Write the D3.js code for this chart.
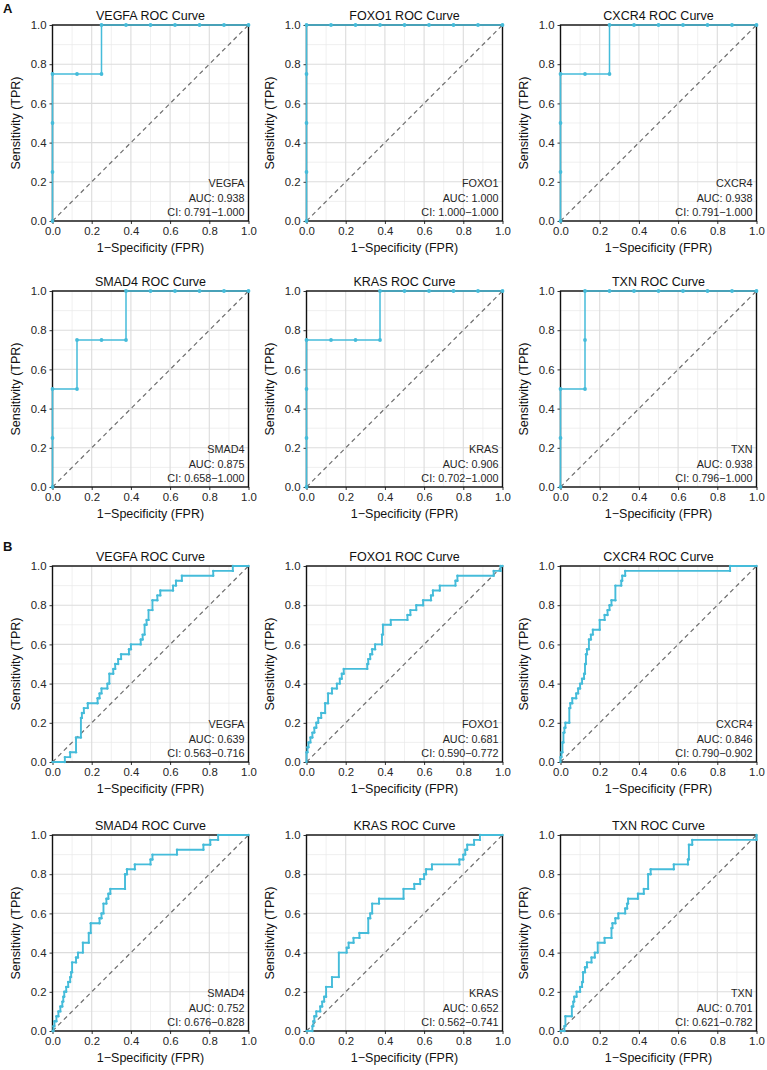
<!DOCTYPE html>
<html><head><meta charset="utf-8">
<script src="https://cdn.jsdelivr.net/npm/d3@7"></script>
<style>body{margin:0;background:#fff}svg{display:block;font-family:"Liberation Sans",Arial,sans-serif}</style>
</head><body><svg id="c" width="767" height="1070"></svg>
<script>
// ---------- data ----------
const genes = ["VEGFA","FOXO1","CXCR4","SMAD4","KRAS","TXN"];
const aucA = ["0.938","1.000","0.938","0.875","0.906","0.938"];
const ciA  = ["0.791\u22121.000","1.000\u22121.000","0.791\u22121.000","0.658\u22121.000","0.702\u22121.000","0.796\u22121.000"];
const aucB = ["0.639","0.681","0.846","0.752","0.652","0.701"];
const ciB  = ["0.563\u22120.716","0.590\u22120.772","0.790\u22120.902","0.676\u22120.828","0.562\u22120.741","0.621\u22120.782"];
const tickVals = [0,0.2,0.4,0.6,0.8,1.0];
const minorVals = [0.1,0.3,0.5,0.7,0.9];

// panel A ROC points [FPR, TPR]
const rocA_VEGFA = [[0,0],[0,0.25],[0,0.5],[0,0.75],[0.125,0.75],[0.25,0.75],[0.25,1],[0.375,1],[0.5,1],[0.625,1],[0.75,1],[0.875,1],[1,1]];
const rocA_FOXO1 = [[0,0],[0,0.25],[0,0.5],[0,0.75],[0,1],[0.125,1],[0.25,1],[0.375,1],[0.5,1],[0.625,1],[0.75,1],[0.875,1],[1,1]];
const rocA_CXCR4 = [[0,0],[0,0.25],[0,0.5],[0,0.75],[0.125,0.75],[0.25,0.75],[0.25,1],[0.375,1],[0.5,1],[0.625,1],[0.75,1],[0.875,1],[1,1]];
const rocA_SMAD4 = [[0,0],[0,0.25],[0,0.5],[0.125,0.5],[0.125,0.75],[0.25,0.75],[0.375,0.75],[0.375,1],[0.5,1],[0.625,1],[0.75,1],[0.875,1],[1,1]];
const rocA_KRAS  = [[0,0],[0,0.25],[0,0.5],[0,0.75],[0.125,0.75],[0.25,0.75],[0.375,0.75],[0.375,1],[0.5,1],[0.625,1],[0.75,1],[0.875,1],[1,1]];
const rocA_TXN   = [[0,0],[0,0.25],[0,0.5],[0.125,0.5],[0.125,0.75],[0.125,1],[0.25,1],[0.375,1],[0.5,1],[0.625,1],[0.75,1],[0.875,1],[1,1]];

// panel B ROC points [FPR, TPR]
const rocB_VEGFA = [[0,0],[0.063,0],[0.063,0.025],[0.09,0.025],[0.09,0.05],[0.12,0.05],[0.12,0.125],[0.145,0.125],[0.145,0.225],[0.15,0.225],[0.15,0.25],[0.16,0.25],[0.16,0.275],[0.18,0.275],[0.18,0.3],[0.23,0.3],[0.23,0.325],[0.24,0.325],[0.24,0.35],[0.25,0.35],[0.25,0.375],[0.28,0.375],[0.28,0.4],[0.29,0.4],[0.29,0.45],[0.31,0.45],[0.31,0.475],[0.32,0.475],[0.32,0.5],[0.335,0.5],[0.335,0.525],[0.35,0.525],[0.35,0.55],[0.39,0.55],[0.39,0.575],[0.4,0.575],[0.4,0.6],[0.45,0.6],[0.45,0.625],[0.46,0.625],[0.46,0.65],[0.47,0.65],[0.47,0.7],[0.48,0.7],[0.48,0.725],[0.49,0.725],[0.49,0.775],[0.51,0.775],[0.51,0.825],[0.535,0.825],[0.535,0.85],[0.55,0.85],[0.55,0.875],[0.615,0.875],[0.615,0.9],[0.63,0.9],[0.63,0.925],[0.66,0.925],[0.66,0.95],[0.82,0.95],[0.82,0.975],[0.92,0.975],[0.92,1],[1,1]];
const rocB_FOXO1 = [[0,0],[0,0.05],[0.005,0.05],[0.005,0.075],[0.01,0.075],[0.01,0.1],[0.02,0.1],[0.02,0.125],[0.03,0.125],[0.03,0.15],[0.04,0.15],[0.04,0.175],[0.05,0.175],[0.05,0.2],[0.06,0.2],[0.06,0.225],[0.075,0.225],[0.075,0.25],[0.095,0.25],[0.095,0.3],[0.11,0.3],[0.11,0.35],[0.13,0.35],[0.13,0.375],[0.155,0.375],[0.155,0.4],[0.17,0.4],[0.17,0.425],[0.18,0.425],[0.18,0.45],[0.19,0.45],[0.19,0.475],[0.31,0.475],[0.31,0.5],[0.315,0.5],[0.315,0.525],[0.325,0.525],[0.325,0.55],[0.335,0.55],[0.335,0.575],[0.35,0.575],[0.35,0.6],[0.385,0.6],[0.385,0.65],[0.39,0.65],[0.39,0.7],[0.43,0.7],[0.43,0.725],[0.515,0.725],[0.515,0.75],[0.53,0.75],[0.53,0.775],[0.56,0.775],[0.56,0.8],[0.595,0.8],[0.595,0.825],[0.635,0.825],[0.635,0.85],[0.645,0.85],[0.645,0.875],[0.68,0.875],[0.68,0.9],[0.76,0.9],[0.76,0.925],[0.77,0.925],[0.77,0.95],[0.955,0.95],[0.955,0.975],[0.99,0.975],[0.99,1],[1,1]];
const rocB_CXCR4 = [[0,0],[0,0.025],[0.005,0.025],[0.005,0.05],[0.01,0.05],[0.01,0.1],[0.015,0.1],[0.015,0.15],[0.02,0.15],[0.02,0.175],[0.025,0.175],[0.025,0.2],[0.045,0.2],[0.045,0.275],[0.05,0.275],[0.05,0.3],[0.06,0.3],[0.06,0.325],[0.08,0.325],[0.08,0.35],[0.09,0.35],[0.09,0.375],[0.1,0.375],[0.1,0.4],[0.11,0.4],[0.11,0.425],[0.12,0.425],[0.12,0.45],[0.125,0.45],[0.125,0.5],[0.13,0.5],[0.13,0.55],[0.135,0.55],[0.135,0.575],[0.145,0.575],[0.145,0.625],[0.155,0.625],[0.155,0.65],[0.165,0.65],[0.165,0.675],[0.2,0.675],[0.2,0.725],[0.225,0.725],[0.225,0.75],[0.24,0.75],[0.24,0.775],[0.25,0.775],[0.25,0.8],[0.26,0.8],[0.26,0.825],[0.28,0.825],[0.28,0.9],[0.31,0.9],[0.31,0.925],[0.315,0.925],[0.315,0.95],[0.33,0.95],[0.33,0.975],[0.865,0.975],[0.865,1],[1,1]];
const rocB_SMAD4 = [[0,0],[0.005,0],[0.005,0.025],[0.01,0.025],[0.01,0.05],[0.02,0.05],[0.02,0.075],[0.03,0.075],[0.03,0.1],[0.04,0.1],[0.04,0.125],[0.05,0.125],[0.05,0.15],[0.055,0.15],[0.055,0.175],[0.06,0.175],[0.06,0.2],[0.07,0.2],[0.07,0.225],[0.08,0.225],[0.08,0.25],[0.09,0.25],[0.09,0.275],[0.095,0.275],[0.095,0.3],[0.1,0.3],[0.1,0.35],[0.12,0.35],[0.12,0.375],[0.13,0.375],[0.13,0.4],[0.155,0.4],[0.155,0.45],[0.185,0.45],[0.185,0.5],[0.195,0.5],[0.195,0.55],[0.24,0.55],[0.24,0.575],[0.25,0.575],[0.25,0.6],[0.26,0.6],[0.26,0.65],[0.275,0.65],[0.275,0.675],[0.285,0.675],[0.285,0.7],[0.295,0.7],[0.295,0.725],[0.37,0.725],[0.37,0.8],[0.38,0.8],[0.38,0.825],[0.42,0.825],[0.42,0.85],[0.5,0.85],[0.5,0.875],[0.51,0.875],[0.51,0.9],[0.635,0.9],[0.635,0.925],[0.77,0.925],[0.77,0.95],[0.805,0.95],[0.805,0.975],[0.845,0.975],[0.845,1],[1,1]];
const rocB_KRAS  = [[0,0],[0.03,0],[0.03,0.025],[0.035,0.025],[0.035,0.05],[0.04,0.05],[0.04,0.075],[0.05,0.075],[0.05,0.1],[0.07,0.1],[0.07,0.125],[0.08,0.125],[0.08,0.15],[0.09,0.15],[0.09,0.175],[0.1,0.175],[0.1,0.225],[0.13,0.225],[0.13,0.275],[0.165,0.275],[0.165,0.4],[0.205,0.4],[0.205,0.425],[0.215,0.425],[0.215,0.45],[0.24,0.45],[0.24,0.475],[0.27,0.475],[0.27,0.5],[0.315,0.5],[0.315,0.575],[0.325,0.575],[0.325,0.6],[0.335,0.6],[0.335,0.65],[0.37,0.65],[0.37,0.675],[0.495,0.675],[0.495,0.725],[0.55,0.725],[0.55,0.75],[0.58,0.75],[0.58,0.775],[0.6,0.775],[0.6,0.8],[0.61,0.8],[0.61,0.825],[0.64,0.825],[0.64,0.85],[0.78,0.85],[0.78,0.875],[0.8,0.875],[0.8,0.9],[0.81,0.9],[0.81,0.925],[0.82,0.925],[0.82,0.95],[0.855,0.95],[0.855,0.975],[0.885,0.975],[0.885,1],[1,1]];
const rocB_TXN   = [[0,0],[0.02,0],[0.02,0.025],[0.025,0.025],[0.025,0.075],[0.058,0.075],[0.058,0.125],[0.065,0.125],[0.065,0.15],[0.07,0.15],[0.07,0.175],[0.082,0.175],[0.082,0.2],[0.1,0.2],[0.1,0.225],[0.11,0.225],[0.11,0.25],[0.115,0.25],[0.115,0.3],[0.125,0.3],[0.125,0.325],[0.135,0.325],[0.135,0.35],[0.158,0.35],[0.158,0.375],[0.175,0.375],[0.175,0.4],[0.19,0.4],[0.19,0.45],[0.225,0.45],[0.225,0.475],[0.26,0.475],[0.26,0.525],[0.265,0.525],[0.265,0.55],[0.28,0.55],[0.28,0.575],[0.295,0.575],[0.295,0.6],[0.33,0.6],[0.33,0.625],[0.34,0.625],[0.34,0.65],[0.345,0.65],[0.345,0.675],[0.395,0.675],[0.395,0.7],[0.425,0.7],[0.425,0.725],[0.447,0.725],[0.447,0.8],[0.46,0.8],[0.46,0.825],[0.578,0.825],[0.578,0.85],[0.65,0.85],[0.65,0.875],[0.655,0.875],[0.655,0.95],[0.672,0.95],[0.672,0.975],[1,0.975],[1,1]];

const rocA = [rocA_VEGFA,rocA_FOXO1,rocA_CXCR4,rocA_SMAD4,rocA_KRAS,rocA_TXN];
const rocB = [rocB_VEGFA,rocB_FOXO1,rocB_CXCR4,rocB_SMAD4,rocB_KRAS,rocB_TXN];

// ---------- layout ----------
const svg = d3.select("#c");
const colX = [52.5, 306.5, 560.5];
const rowY = [25, 291, 566, 835];
const pw = 196, ph = 196;
const lineCol = "#45BCDA";

const panels = [];
genes.forEach((g,i)=>panels.push({gene:g, roc:rocA[i], auc:aucA[i], ci:ciA[i], row:Math.floor(i/3), col:i%3, A:true}));
genes.forEach((g,i)=>panels.push({gene:g, roc:rocB[i], auc:aucB[i], ci:ciB[i], row:2+Math.floor(i/3), col:i%3, A:false}));

panels.forEach(p=>{
  const g = svg.append("g").attr("transform",`translate(${colX[p.col]},${rowY[p.row]})`);
  const x = d3.scaleLinear().domain([0,1]).range([0,pw]);
  const y = d3.scaleLinear().domain([0,1]).range([ph,0]);
  // minor grid
  g.selectAll(".mx").data(minorVals).join("line")
    .attr("x1",d=>x(d)).attr("x2",d=>x(d)).attr("y1",0).attr("y2",ph)
    .attr("stroke","#e9e9e9").attr("stroke-width",0.7);
  g.selectAll(".my").data(minorVals).join("line")
    .attr("y1",d=>y(d)).attr("y2",d=>y(d)).attr("x1",0).attr("x2",pw)
    .attr("stroke","#e9e9e9").attr("stroke-width",0.7);
  // major grid
  g.append("g").selectAll("line").data(tickVals).join("line")
    .attr("x1",d=>x(d)).attr("x2",d=>x(d)).attr("y1",0).attr("y2",ph)
    .attr("stroke","#dcdcdc").attr("stroke-width",1.1);
  g.append("g").selectAll("line").data(tickVals).join("line")
    .attr("y1",d=>y(d)).attr("y2",d=>y(d)).attr("x1",0).attr("x2",pw)
    .attr("stroke","#dcdcdc").attr("stroke-width",1.1);
  // diagonal
  g.append("line").attr("x1",x(0)).attr("y1",y(0)).attr("x2",x(1)).attr("y2",y(1))
    .attr("stroke","#6e6e6e").attr("stroke-width",1.2).attr("stroke-dasharray","4.5,3.5");
  // axes
  const xa = g.append("g").attr("transform",`translate(0,${ph})`)
    .call(d3.axisBottom(x).tickValues(tickVals).tickFormat(d3.format(".1f")).tickSize(3).tickPadding(3));
  const ya = g.append("g")
    .call(d3.axisLeft(y).tickValues(tickVals).tickFormat(d3.format(".1f")).tickSize(3).tickPadding(3));
  [xa,ya].forEach(a=>{
    a.select(".domain").remove();
    a.selectAll("text").attr("font-size",11.4).attr("fill","#262626").attr("font-family","Liberation Sans, Arial, sans-serif");
    a.selectAll("line").attr("stroke","#333");
  });
  // border
  g.append("rect").attr("width",pw).attr("height",ph).attr("fill","none")
    .attr("stroke","#111").attr("stroke-width",1.4);
  // curve
  const line = d3.line().x(d=>x(d[0])).y(d=>y(d[1]));
  g.append("path").datum(p.roc).attr("d",line).attr("fill","none")
    .attr("stroke",lineCol).attr("stroke-width",p.A?1.5:1.9).attr("stroke-linejoin","round");
  g.selectAll(".pt").data(p.roc).join("circle")
    .attr("cx",d=>x(d[0])).attr("cy",d=>y(d[1])).attr("r",p.A?1.9:1.2).attr("fill",lineCol);
  // titles
  g.append("text").attr("x",pw/2).attr("y",-5.5).attr("text-anchor","middle")
    .attr("font-size",12.5).attr("fill","#111").text(`${p.gene} ROC Curve`);
  g.append("text").attr("x",pw/2).attr("y",ph+31).attr("text-anchor","middle")
    .attr("font-size",12.5).attr("fill","#111").text("1\u2212Specificity (FPR)");
  g.append("text").attr("transform",`translate(-33,${ph/2}) rotate(-90)`).attr("text-anchor","middle")
    .attr("font-size",12.5).attr("fill","#111").text("Sensitivity (TPR)");
  // annotation
  const ann = [p.gene, `AUC: ${p.auc}`, `CI: ${p.ci}`];
  const off = [-34, -19.5, -5];
  ann.forEach((t,k)=>g.append("text").attr("x",pw-4).attr("y",ph+off[k]).attr("text-anchor","end")
    .attr("font-size",10.8).attr("fill","#262626").text(t));
});

svg.append("text").attr("x",3).attr("y",13).attr("font-size",13).attr("font-weight","bold").attr("fill","#111").text("A");
svg.append("text").attr("x",3).attr("y",551).attr("font-size",13).attr("font-weight","bold").attr("fill","#111").text("B");
</script></body></html>
